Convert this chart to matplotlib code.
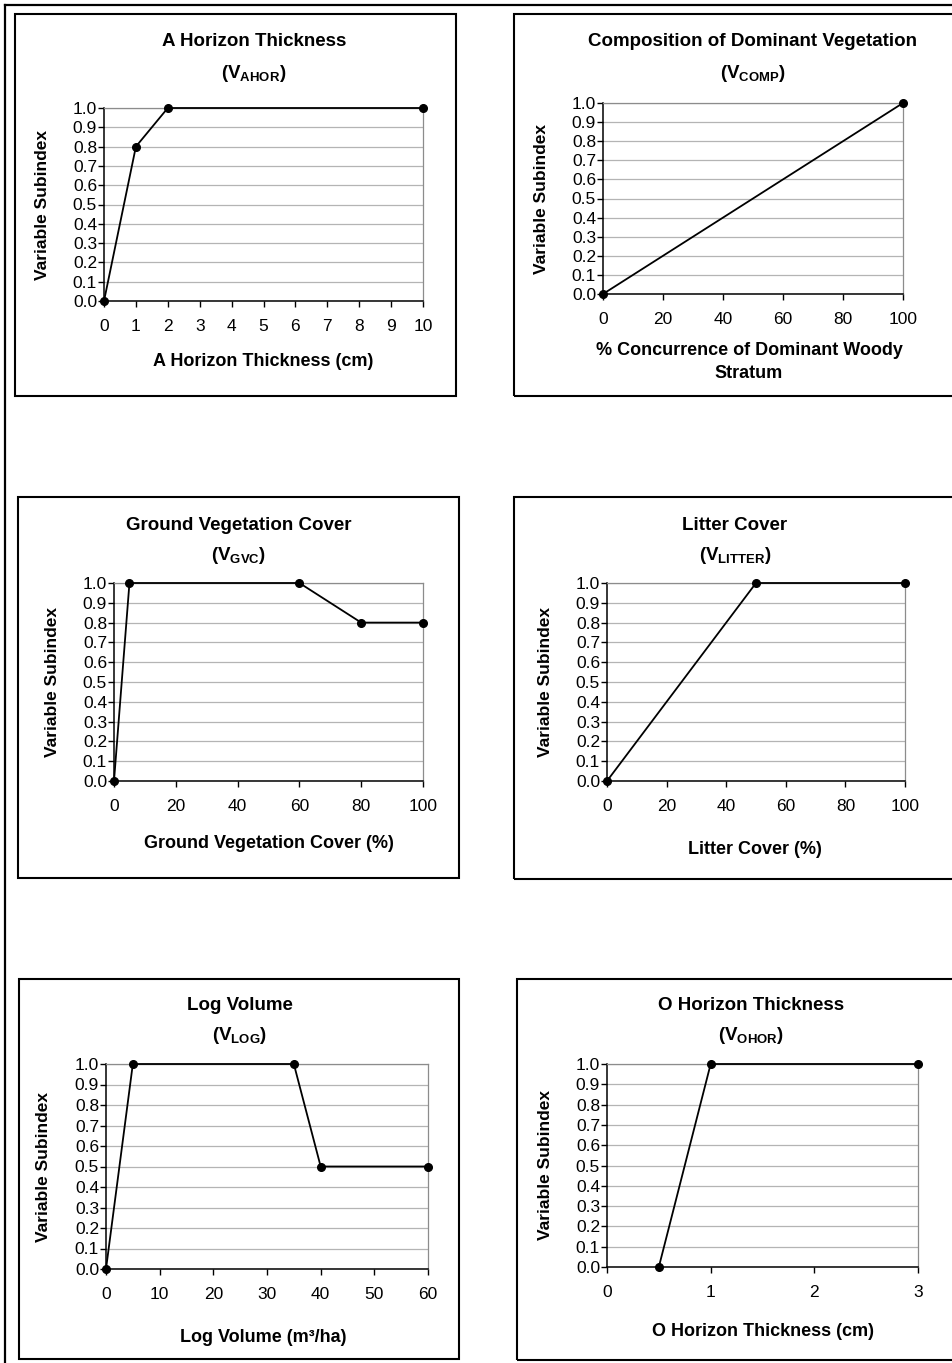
import matplotlib
matplotlib.use("Agg")
import matplotlib.pyplot as plt
from matplotlib.patches import Rectangle
from matplotlib.lines import Line2D

plt.rcParams["font.family"] = ["Liberation Sans", "DejaVu Sans"]
plt.rcParams["mathtext.fontset"] = "custom"
plt.rcParams["mathtext.rm"] = "Liberation Sans"
plt.rcParams["mathtext.bf"] = "Liberation Sans:bold"

# ---- data -------------------------------------------------------------
ahor_x = [0, 1, 2, 10]
ahor_y = [0.0, 0.8, 1.0, 1.0]

comp_x = [0, 100]
comp_y = [0.0, 1.0]

gvc_x = [0, 5, 60, 80, 100]
gvc_y = [0.0, 1.0, 1.0, 0.8, 0.8]

litter_x = [0, 50, 100]
litter_y = [0.0, 1.0, 1.0]

log_x = [0, 5, 35, 40, 60]
log_y = [0.0, 1.0, 1.0, 0.5, 0.5]

ohor_x = [0.5, 1, 3]
ohor_y = [0.0, 1.0, 1.0]

ahor_ticks = list(range(0, 11))
pct_ticks = [0, 20, 40, 60, 80, 100]
log_ticks = [0, 10, 20, 30, 40, 50, 60]
ohor_ticks = [0, 1, 2, 3]
y_ticks = [i / 10 for i in range(11)]

titles = ["A Horizon Thickness", "Composition of Dominant Vegetation",
          "Ground Vegetation Cover", "Litter Cover",
          "Log Volume", "O Horizon Thickness"]
subscripts = ["AHOR", "COMP", "GVC", "LITTER", "LOG", "OHOR"]
xlabels = ["A Horizon Thickness (cm)",
           "% Concurrence of Dominant Woody\nStratum",
           "Ground Vegetation Cover (%)", "Litter Cover (%)",
           "Log Volume (m\u00b3/ha)", "O Horizon Thickness (cm)"]
ylabel = "Variable Subindex"

# ---- layout (pixels) ----------------------------------------------------
W, H = 953, 1363
fig = plt.figure(figsize=(W / 100, H / 100), dpi=100)
fig.patch.set_facecolor("white")


def fx(x):
    return x / W


def fy(y):
    return 1 - y / H


panels = [
    dict(x=ahor_x, y=ahor_y, ticks=ahor_ticks, xlim=(0, 10),
         box=(15, 14, 456, 396), plot=(104, 108, 423, 301),
         tx=254, ty=42, sy=73, lx=263, ly=362, yx=43),
    dict(x=comp_x, y=comp_y, ticks=pct_ticks, xlim=(0, 100),
         box=(514, 14, 962, 396), plot=(603, 103, 903, 294),
         tx=753, ty=42, sy=73, lx=749, ly=362, yx=542),
    dict(x=gvc_x, y=gvc_y, ticks=pct_ticks, xlim=(0, 100),
         box=(18, 497, 459, 878), plot=(114, 583, 423, 781),
         tx=239, ty=525, sy=555, lx=269, ly=844, yx=53),
    dict(x=litter_x, y=litter_y, ticks=pct_ticks, xlim=(0, 100),
         box=(514, 497, 962, 879), plot=(607, 583, 905, 781),
         tx=735, ty=525, sy=555, lx=755, ly=849, yx=546),
    dict(x=log_x, y=log_y, ticks=log_ticks, xlim=(0, 60),
         box=(19, 979, 459, 1359), plot=(106, 1064, 428, 1269),
         tx=240, ty=1006, sy=1036, lx=263, ly=1337, yx=44),
    dict(x=ohor_x, y=ohor_y, ticks=ohor_ticks, xlim=(0, 3),
         box=(517, 979, 962, 1360), plot=(607, 1064, 918, 1267),
         tx=751, ty=1006, sy=1036, lx=763, ly=1332, yx=546),
]

# outer page border (top and left edges)
fig.add_artist(Line2D([fx(5), fx(W + 5)], [fy(5), fy(5)], color="black", lw=1.6))
fig.add_artist(Line2D([fx(5), fx(5)], [fy(5), fy(H + 5)], color="black", lw=1.6))

grid_c = "#b4b4b4"
frame_c = "#8c8c8c"

for i, p in enumerate(panels):
    bx0, by0, bx1, by1 = p["box"]
    fig.add_artist(Rectangle((fx(bx0), fy(by1)), (bx1 - bx0) / W, (by1 - by0) / H,
                             fill=False, ec="black", lw=1.5))
    l, t, r, b = p["plot"]
    ax = fig.add_axes([fx(l), fy(b), (r - l) / W, (b - t) / H])
    ax.set_xlim(*p["xlim"])
    ax.set_ylim(0, 1)
    ax.set_xticks(p["ticks"])
    ax.set_yticks(y_ticks)
    ax.set_yticklabels([f"{v:.1f}" for v in y_ticks])
    ax.yaxis.grid(True, color=grid_c, lw=0.9)
    ax.set_axisbelow(True)
    for s in ("top", "right"):
        ax.spines[s].set_color(frame_c)
        ax.spines[s].set_linewidth(0.9)
    for s in ("left", "bottom"):
        ax.spines[s].set_color("black")
        ax.spines[s].set_linewidth(1.1)
    ax.tick_params(axis="x", direction="out", length=4, width=1.0,
                   pad=9, labelsize=12.5)
    ax.tick_params(axis="y", direction="out", length=4, width=1.0,
                   pad=1, labelsize=12.5)
    ax.plot(p["x"], p["y"], color="black", lw=1.3, marker="o", ms=5.5,
            clip_on=False, zorder=5)

    fig.text(fx(p["tx"]), fy(p["ty"]), titles[i], ha="center", va="center",
             fontsize=13.5, fontweight="bold")
    fig.text(fx(p["tx"]), fy(p["sy"]),
             "($\\mathbf{V}_{\\mathbf{" + subscripts[i] + "}}$)",
             ha="center", va="center", fontsize=13.5, fontweight="bold")
    fig.text(fx(p["lx"]), fy(p["ly"]), xlabels[i], ha="center", va="center",
             fontsize=13, fontweight="bold", linespacing=1.45)
    fig.text(fx(p["yx"]), fy((t + b) / 2), ylabel, ha="center", va="center",
             rotation=90, fontsize=12.5, fontweight="bold")

fig.savefig("out.png", dpi=100, facecolor="white")
